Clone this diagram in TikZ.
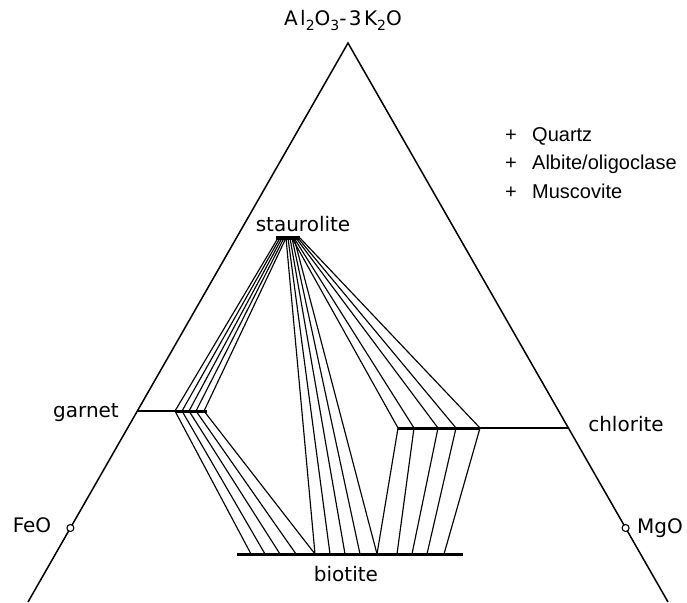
\documentclass[tikz,border=0pt]{standalone}
\usepackage{fontspec}
\setmainfont{DejaVu Sans}
\newfontfamily\labfont{DejaVu Sans}
\newfontfamily\titfont[LetterSpace=12]{DejaVu Sans}
\newfontfamily\legfont{Liberation Sans}
\begin{document}
\begin{tikzpicture}[x=1pt,y=-1pt,
  tri/.style={line width=1.5pt},
  tie/.style={line width=1.15pt},
  thickbar/.style={line width=3pt},
  thinbar/.style={line width=1.8pt},
  lab/.style={font=\labfont\fontsize{20}{24}\selectfont, inner sep=0pt, anchor=base},
  leg/.style={font=\legfont\fontsize{20}{24}\selectfont, inner sep=0pt, anchor=base west},
  oxide/.style={circle, draw, fill=white, line width=1.1pt, minimum size=7pt, inner sep=0pt}]
\useasboundingbox (0,0) rectangle (687,602);

% triangle
\coordinate (A) at (348,43);
\coordinate (L) at (28,602);
\coordinate (R) at (668,602);
\draw[tri] (L) -- (A) -- (R);
\node[oxide] (feo) at (70.4,528) {};
\node[oxide] (mgo) at (625.6,528) {};

% garnet bar
\coordinate (gE) at (137.3,411);
\coordinate (g1) at (175,411);
\coordinate (g2) at (182,411);
\coordinate (g3) at (189,411);
\coordinate (g4) at (196,411);
\coordinate (g5) at (204,411);
\coordinate (gR) at (207,411);
\draw[thinbar] (gE) -- (g1);
\draw[thickbar] (g1) -- (gR);

% staurolite bar
\coordinate (sL) at (276,238);
\coordinate (sR) at (300,238);
\draw[line width=3.6pt] (sL) -- (sR);
\foreach \i/\x in {1/278,2/280,3/282,4/284,5/286}{\coordinate (sg\i) at (\x,238);}
\foreach \i/\x in {1/286,2/288,3/290,4/292,5/294}{\coordinate (sb\i) at (\x,238);}
\foreach \i/\x in {1/292,2/294,3/296,4/298,5/300}{\coordinate (sc\i) at (\x,238);}

% chlorite bar
\coordinate (c1) at (398,428);
\coordinate (c2) at (414,428);
\coordinate (c3) at (438,428);
\coordinate (c4) at (456,428);
\coordinate (c5) at (480,428);
\coordinate (cE) at (568.4,428);
\draw[thickbar] (c1) -- (c5);
\draw[thinbar] (c5) -- (cE);

% biotite bar
\coordinate (bL) at (237,554);
\coordinate (bR) at (463,554);
\draw[thickbar] (bL) -- (bR);
\foreach \i/\x in {1/251,2/265,3/280,4/296,5/315,6/330,7/345,8/360,9/377,10/397,11/412,12/427,13/444}{\coordinate (b\i) at (\x,554);}

% tie lines
\foreach \i in {1,...,5}{
  \draw[tie] (g\i) -- (b\i);
  \draw[tie] (g\i) -- (sg\i);
  \draw[tie] (c\i) -- (sc\i);
}
\foreach \i/\j in {1/5,2/6,3/7,4/8,5/9}{\draw[tie] (sb\i) -- (b\j);}
\foreach \i/\j in {1/9,2/10,3/11,4/12,5/13}{\draw[tie] (c\i) -- (b\j);}

% labels
\node[inner sep=0pt, anchor=base, font=\titfont\fontsize{20}{24}\selectfont] (title) at (343,26)
  {Al\raisebox{-0.4ex}{\fontsize{14}{14}\selectfont 2}O\raisebox{-0.4ex}{\fontsize{14}{14}\selectfont 3}-3K\raisebox{-0.4ex}{\fontsize{14}{14}\selectfont 2}O};
\node[lab] (staur) at (303,231.7) {staurolite};
\node[lab] (garnet) at (86,417) {garnet};
\node[lab] (chlor) at (626,431.7) {chlorite};
\node[lab] (biot) at (346,581.7) {biotite};
\node[lab] (feolab) at (32,532) {FeO};
\node[lab] (mgolab) at (660,533) {MgO};

% legend
\node[leg] (p1) at (505,141) {+};
\node[leg] (p2) at (505,169.5) {+};
\node[leg] (p3) at (505,198) {+};
\node[leg] (q) at (532,141) {Quartz};
\node[leg] (ab) at (532,169.5) {Albite/oligoclase};
\node[leg] (mu) at (532,198) {Muscovite};
\end{tikzpicture}
\end{document}
